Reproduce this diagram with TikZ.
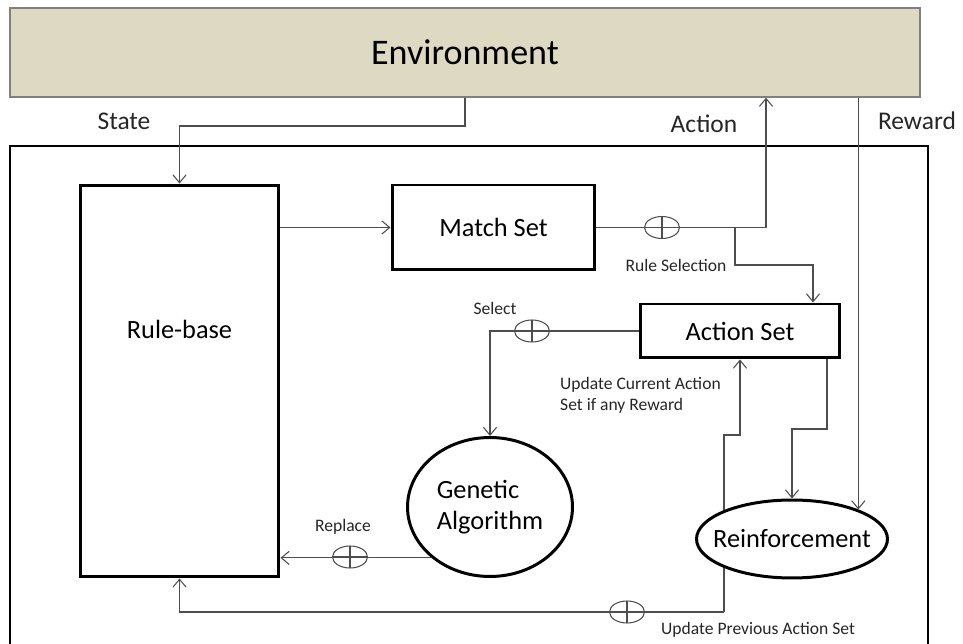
\documentclass[tikz,border=0pt]{standalone}
\usepackage{fontspec}
\setmainfont{Carlito}
\usetikzlibrary{shapes.geometric, arrows.meta, backgrounds}
\definecolor{envtan}{HTML}{DDD9C3}
\definecolor{linegray}{HTML}{4D4D4D}

\begin{document}
\begin{tikzpicture}[x=0.02cm, y=-0.02cm,
    box/.style={draw, line width=1.7pt, rectangle, fill=white, align=center, font=\fontsize{15}{18}\selectfont},
    blob/.style={draw, line width=1.7pt, ellipse, fill=white, inner sep=0pt, align=left, font=\fontsize{15}{18}\selectfont},
    conn/.style={draw=linegray, line width=0.6pt, -{Straight Barb[length=4.5pt, width=7.5pt]}},
    oplus/.style={draw=linegray, line width=0.6pt, ellipse, fill=white, inner sep=0pt, minimum width=0.7cm, minimum height=0.44cm,
        path picture={\draw[linegray, line width=0.6pt] (path picture bounding box.north) -- (path picture bounding box.south)
            (path picture bounding box.west) -- (path picture bounding box.east);}},
    tag/.style={text=black!85, font=\fontsize{14.5}{17}\selectfont},
    note/.style={text=black!85, font=\fontsize{10}{12}\selectfont, align=left}]

    \useasboundingbox (0,0) rectangle (963,644);

    \node[box, fill=envtan, draw=black!50, line width=0.8pt, minimum width=18.2cm, minimum height=1.78cm,
        font=\fontsize{20.5}{24}\selectfont] (env) at (465,52.5) {Environment};
    \draw[line width=1.2pt] (10,660) -- (10,146) -- (928,146) -- (928,660);

    \node[box, minimum width=3.98cm, minimum height=7.84cm] (rulebase) at (179.5,381) {};
    \node[font=\fontsize{15}{18}\selectfont] (rbname) at (179.5,329) {Rule-base};
    \node[box, minimum width=4.06cm, minimum height=1.7cm] (matchset) at (493.5,227.5) {Match Set};
    \node[box, minimum width=4cm, minimum height=1.08cm] (actionset) at (740,331) {Action Set};
    \node[blob, minimum width=3.3cm, minimum height=2.78cm] (ga) at (490,507) {Genetic\\Algorithm};
    \node[blob, minimum width=3.82cm, minimum height=1.56cm] (reinf) at (792,539) {\makebox[0pt]{Reinforcement}};

    \coordinate (statex) at (465,126);
    \coordinate (actx) at (766,227.5);
    \coordinate (rsel) at (735,227.5);
    \coordinate (rselx) at (813,265);
    \coordinate (asx) at (827,429);
    \coordinate (upd) at (724,612);
    \coordinate (updx) at (740,435);

    \draw[conn] (env.south) -- (statex) -| (rulebase.north);
    \draw[conn] (rulebase.east |- matchset.west) -- (matchset.west);
    \draw[conn] (matchset.east) -- (actx) -- (env.south -| actx);
    \draw[conn] (rsel) |- (rselx) -- (actionset.north -| rselx);
    \draw[conn] (actionset.west) -| (ga.north);
    \draw[conn] (ga.221) -- (rulebase.east |- ga.221);
    \draw[conn] (actionset.south -| asx) -- (asx) -| (reinf.north);
    \draw[conn] (env.south -| reinf.24) -- (reinf.24);
    \begin{scope}[on background layer]
        \draw[conn] (upd) |- (updx) -- (actionset.south -| updx);
        \draw[conn] (upd) -| (rulebase.south);
    \end{scope}

    \node[oplus] (opact) at (662,227.5) {};
    \node[oplus] (opsel) at (532,331) {};
    \node[oplus] (oprep) at (350,557) {};
    \node[oplus] (opupd) at (627,612) {};

    \node[tag] (lstate) at (124,121) {State};
    \node[tag] (laction) at (704,124) {Action};
    \node[tag] (lreward) at (917,121) {Reward};
    \node[note] (lrsel) at (676,265) {Rule Selection};
    \node[note] (lsel) at (495,308) {Select};
    \node[note] (lrep) at (343,527) {Replace};
    \node[note, anchor=west] (lcur) at (554,395) {Update Current Action\\Set if any Reward};
    \node[note] (lprev) at (758,630) {Update Previous Action Set};
\end{tikzpicture}
\end{document}
